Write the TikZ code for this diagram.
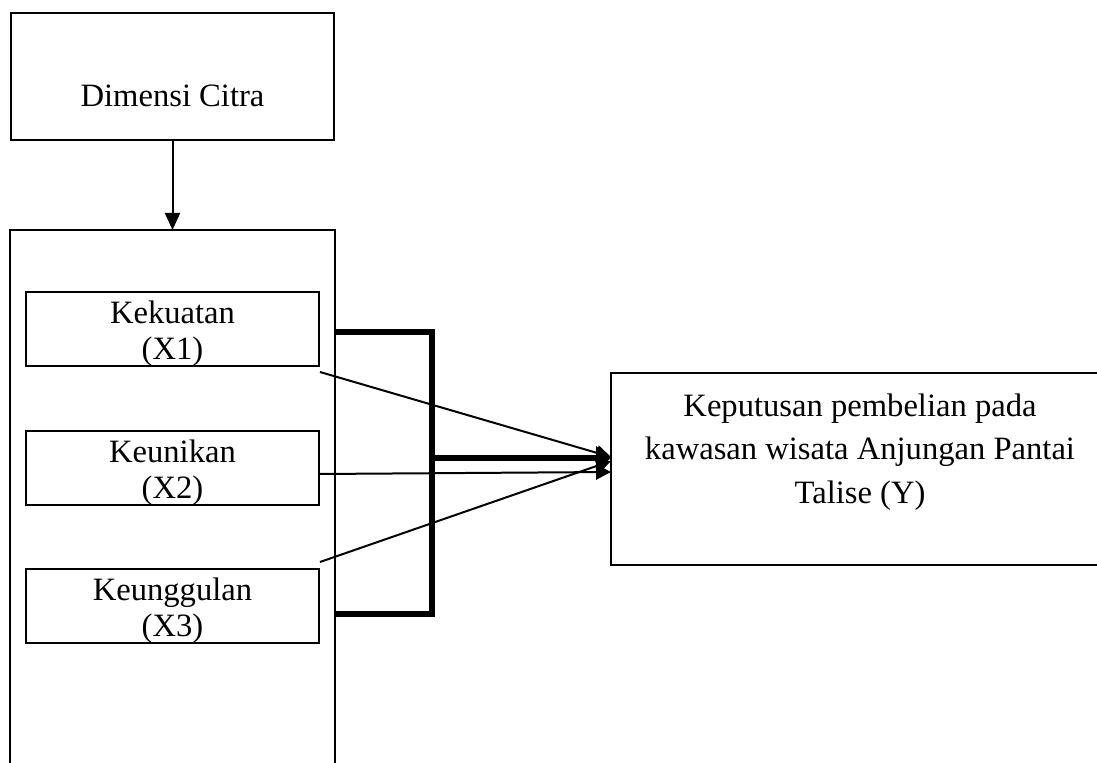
\documentclass[tikz,border=0pt]{standalone}
\usepackage{fontspec}
\setmainfont{Liberation Serif}
\usetikzlibrary{arrows.meta}
\begin{document}
\begin{tikzpicture}[x=0.5pt,y=-0.5pt,
  frame/.style={inner sep=0pt, line width=1pt},
  sbox/.style={draw, frame, minimum width=146.5pt, minimum height=37pt},
  lbl/.style={font=\fontsize{16.3}{18}\selectfont, align=center, inner sep=0pt, anchor=north},
  ylbl/.style={font=\fontsize{16.3}{21.75}\selectfont, align=center, inner sep=0pt, anchor=north},
  thinarrow/.style={line width=1pt, -{Triangle[length=7.5pt,width=7.5pt]}},
  thickline/.style={line width=3pt, line join=miter},
  thickarrow/.style={line width=3pt, -{Triangle[length=7.5pt,width=11.5pt]}}
]
\useasboundingbox (0,0) rectangle (1097,763);

% Dimensi Citra
\node[draw, frame, minimum width=161.5pt, minimum height=63.5pt] (dim) at (172.5,76.5) {};
\node[lbl] (dimtxt) at (172.5,85) {Dimensi Citra};

% outer group box (open at the bottom)
\node[frame, minimum width=161.5pt, minimum height=267pt] (grp) at (172.5,498) {};
\draw[line width=1pt] (grp.south west) -- (grp.north west) -- (grp.north east) -- (grp.south east);

% inner boxes
\node[sbox] (k1) at (172.5,329.5) {};
\node[lbl] (k1txt) at (172.5,300) {Kekuatan\\(X1)};
\node[sbox] (k2) at (172.5,468) {};
\node[lbl] (k2txt) at (172.5,439) {Keunikan\\(X2)};
\node[sbox] (k3) at (172.5,606) {};
\node[lbl] (k3txt) at (172.5,577) {Keunggulan\\(X3)};

% Y box (open at the right)
\node[frame, minimum width=249pt, minimum height=95pt] (ybox) at (861,469) {};
\draw[line width=1pt] (ybox.north east) -- (ybox.north west) -- (ybox.south west) -- (ybox.south east);
\node[ylbl] (ytxt) at (860,393) {Keputusan pembelian pada\\kawasan wisata Anjungan Pantai\\Talise (Y)};

% arrow Dimensi -> group
\draw[line width=1pt, -{Triangle[length=8.5pt,width=7.5pt]}] (dim.south) -- (grp.north);

% bracket
\draw[thickline] (grp.east |- 0,332) -| (432,614) -- (grp.east |- 0,614);
\draw[thickarrow] (432,458) -- (ybox.west |- 0,458);

% thin arrows
\draw[thinarrow] (k1.east |- 0,372) -- (ybox.west |- 0,457);
\draw[thinarrow] (k2.east |- 0,474) -- (ybox.west |- 0,472);
\draw[thinarrow] (k3.east |- 0,562) -- (ybox.west |- 0,461);
\end{tikzpicture}
\end{document}
